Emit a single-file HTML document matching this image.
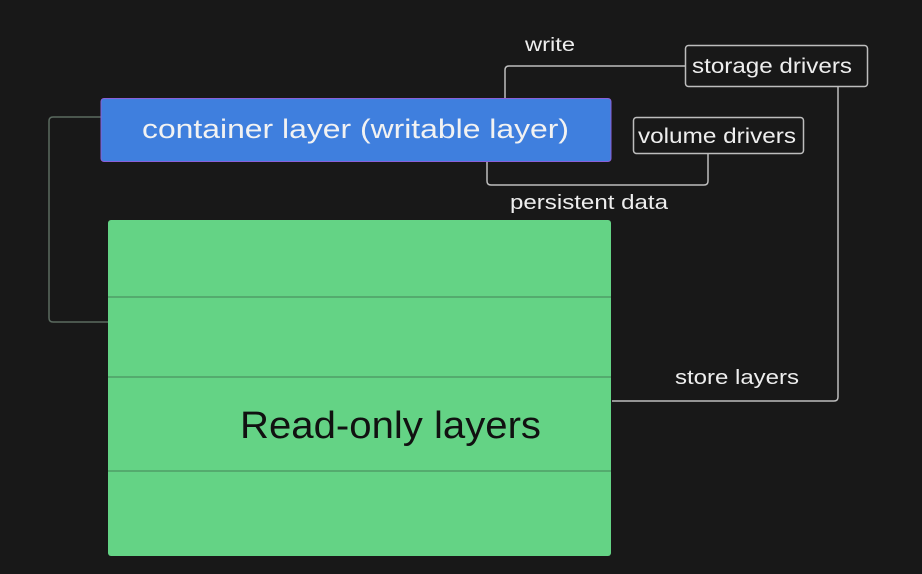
<!DOCTYPE html>
<html><head><meta charset="utf-8"><style>
html,body{margin:0;padding:0;background:#181818;}
svg{display:block;}
text{font-family:"Liberation Sans",sans-serif;}
</style></head><body>
<svg width="922" height="574" viewBox="0 0 922 574" xmlns="http://www.w3.org/2000/svg">
<rect width="922" height="574" fill="#181818"/>
<g fill="none" stroke="#bdbdbd" stroke-width="1.5">
<path d="M685 66 H509 Q505 66 505 70 V99"/>
<path d="M708 153 V181 Q708 185 704 185 H491 Q487 185 487 181 V162"/>
<path d="M838 87 V397 Q838 401 834 401 H612"/>
</g>
<path d="M108 322 H53 Q49 322 49 318 V121 Q49 117 53 117 H101" fill="none" stroke="#5a6a5f" stroke-width="1.5"/>
<rect x="101" y="98.5" width="510" height="63" rx="3" fill="#3f7fde" stroke="#8a5fd8" stroke-width="1"/>
<text x="142" y="138" font-size="27" fill="#f2f2f2" textLength="427" lengthAdjust="spacingAndGlyphs">container layer (writable layer)</text>
<rect x="108" y="220" width="503" height="336" rx="3" fill="#64d385"/>
<g stroke="#4f9e66" stroke-width="1.5">
<line x1="108" y1="297" x2="611" y2="297"/>
<line x1="108" y1="377" x2="611" y2="377"/>
<line x1="108" y1="471" x2="611" y2="471"/>
</g>
<text x="240" y="438" font-size="38" fill="#111" textLength="301" lengthAdjust="spacingAndGlyphs">Read-only layers</text>
<rect x="685.5" y="45.5" width="182" height="41" rx="3" fill="#181818" stroke="#bdbdbd" stroke-width="1.5"/>
<text x="692" y="73" font-size="21" fill="#eeeeee" textLength="160" lengthAdjust="spacingAndGlyphs">storage drivers</text>
<rect x="633.5" y="117.5" width="170" height="36" rx="3" fill="#181818" stroke="#bdbdbd" stroke-width="1.5"/>
<text x="638" y="143" font-size="21" fill="#eeeeee" textLength="158" lengthAdjust="spacingAndGlyphs">volume drivers</text>
<text x="525" y="51" font-size="19" fill="#eeeeee" textLength="50" lengthAdjust="spacingAndGlyphs">write</text>
<text x="510" y="209" font-size="20" fill="#eeeeee" textLength="158" lengthAdjust="spacingAndGlyphs">persistent data</text>
<text x="675" y="384" font-size="20" fill="#eeeeee" textLength="124" lengthAdjust="spacingAndGlyphs">store layers</text>
</svg>
</body></html>
